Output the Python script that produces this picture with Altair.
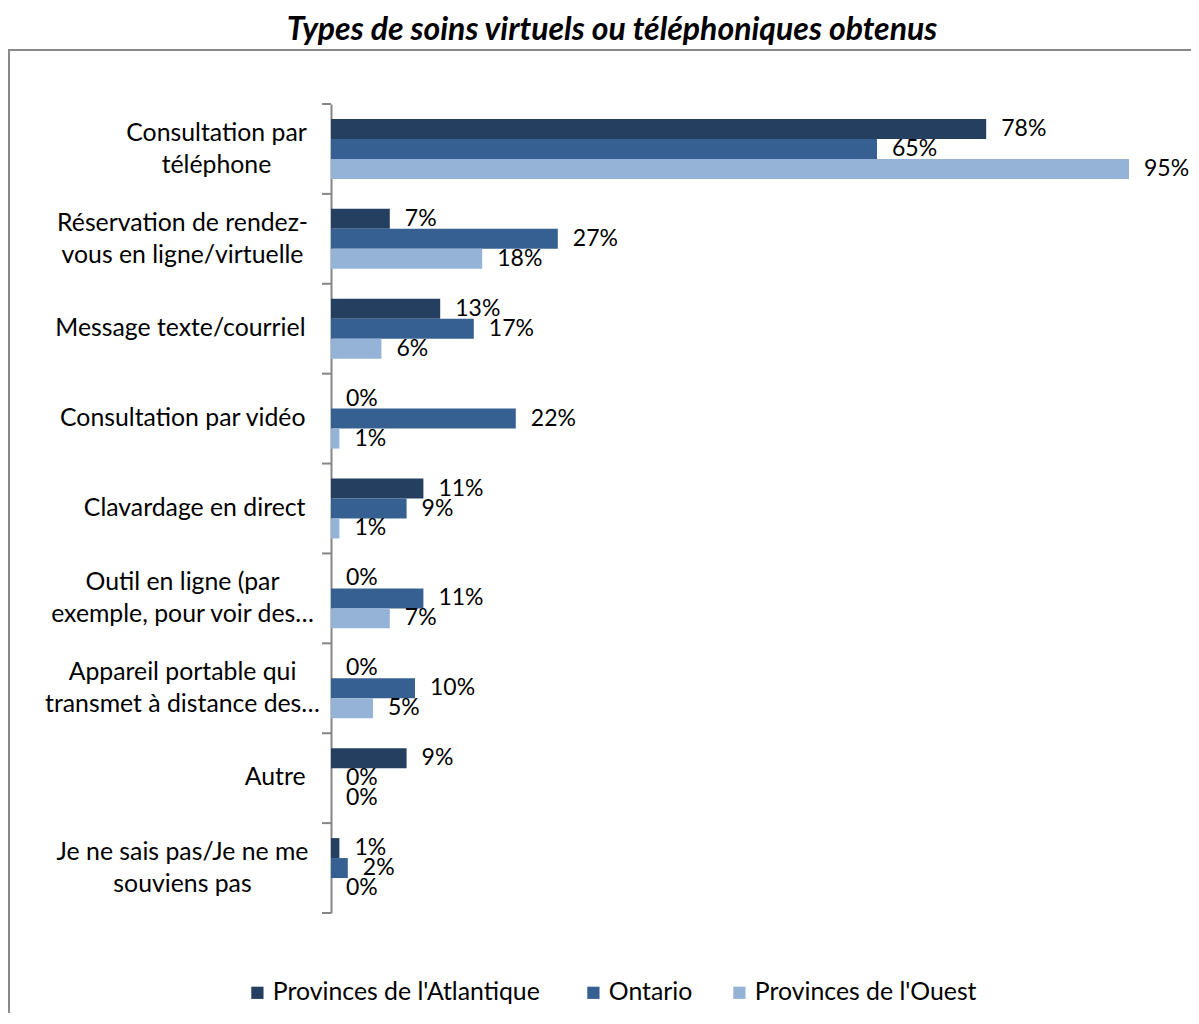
import altair as alt
import pandas as pd

categories = [
    "Consultation par\ntéléphone",
    "Réservation de rendez-\nvous en ligne/virtuelle",
    "Message texte/courriel",
    "Consultation par vidéo",
    "Clavardage en direct",
    "Outil en ligne (par\nexemple, pour voir des…",
    "Appareil portable qui\ntransmet à distance des…",
    "Autre",
    "Je ne sais pas/Je ne me\nsouviens pas",
]
groups = ["Provinces de  l'Atlantique", "Ontario", "Provinces de  l'Ouest"]
atlantique = [78, 7, 13, 0, 11, 0, 0, 9, 1]
ontario = [65, 27, 17, 22, 9, 11, 10, 0, 2]
ouest = [95, 18, 6, 1, 1, 7, 5, 0, 0]
colors = ["#243F60", "#366092", "#95B3D7"]

FONT = "Lato"
FS = 23      # value labels
FS_CAT = 24.8  # category and legend labels

rows = []
for i, c in enumerate(categories):
    for g, series in zip(groups, [atlantique, ontario, ouest]):
        rows.append({"cat": c, "group": g, "value": series[i], "label": f"{series[i]}%"})
df = pd.DataFrame(rows)

W, H = 840, 809

MULTI = "indexof(datum.value, '\\n') >= 0"
FIRST = "indexof(datum.value, 'téléphone') >= 0"

y_axis = alt.Axis(
    title=None,
    labelExpr="split(datum.label, '\\n')",
    labelFont=FONT,
    labelFontSize=FS_CAT,
    labelColor="black",
    labelLineHeight=32,
    labelPadding={"condition": [{"test": FIRST, "value": 115},
                                {"test": MULTI, "value": 149}],
                  "value": 26},
    labelAlign={"condition": {"test": MULTI, "value": "center"}, "value": "right"},
    labelOffset={"condition": {"test": MULTI, "value": -15}, "value": 0},
    labelLimit=500,
    labelBaseline="middle",
    ticks=False,
    domainColor="#868686",
    domainWidth=2,
    grid=False,
)
y_enc = alt.Y("cat:N", sort=categories, axis=y_axis,
              scale=alt.Scale(paddingInner=0, paddingOuter=0))
x_enc = alt.X("value:Q", scale=alt.Scale(domain=[0, 100]), axis=None)
yoff = alt.YOffset("group:N", sort=groups,
                   scale=alt.Scale(paddingInner=0, paddingOuter=0.75))

bars = alt.Chart(df).mark_bar().encode(
    x=x_enc,
    y=y_enc,
    yOffset=yoff,
    color=alt.Color(
        "group:N",
        sort=groups,
        scale=alt.Scale(domain=groups, range=colors),
        legend=alt.Legend(
            title=None,
            orient="none",
            direction="horizontal",
            legendX=-86,
            legendY=876,
            symbolType="square",
            symbolSize=150,
            symbolStrokeWidth=0,
            labelFont=FONT,
            labelFontSize=FS_CAT,
            labelColor="black",
            labelLimit=500,
            labelOffset=3,
            columnPadding=34,
        ),
    ),
)

texts = alt.Chart(df).mark_text(
    align="left", baseline="middle", dx=15, font=FONT, fontSize=FS, color="black"
).encode(x=x_enc, y=y_enc, yOffset=yoff, text="label:N")

ticks = alt.Chart(pd.DataFrame({"cat": categories})).mark_rule(
    color="#868686", strokeWidth=2
).encode(
    y=alt.Y("cat:N", sort=categories, bandPosition=0, axis=y_axis),
    x=alt.value(-9),
    x2=alt.value(0),
)
last_tick = alt.Chart(pd.DataFrame({"k": [0]})).mark_rule(
    color="#868686", strokeWidth=2
).encode(y=alt.value(H), x=alt.value(-9), x2=alt.value(0))

frame = alt.Chart(pd.DataFrame({"k": [0]})).mark_rect(
    filled=False, stroke="#888888", strokeWidth=2
).encode(
    x=alt.value(-322), x2=alt.value(W + 40),
    y=alt.value(-54), y2=alt.value(H + 120),
)

chart = (
    alt.layer(frame, bars, texts, ticks, last_tick)
    .properties(
        width=W,
        height=H,
        padding={"left": 323, "top": 96, "right": 20, "bottom": 100},
        autosize=alt.AutoSizeParams(type="none"),
        title=alt.TitleParams(
            text="Types de soins virtuels ou téléphoniques obtenus",
            font=FONT,
            fontSize=32,
            fontStyle="italic",
            fontWeight="bold",
            color="black",
            anchor="middle",
            dx=-139,
            offset=2,
        ),
    )
    .configure(background="white")
    .configure_view(stroke="transparent", strokeWidth=0)
)

chart.save("out.html", embed_options={"renderer": "svg", "actions": False})
